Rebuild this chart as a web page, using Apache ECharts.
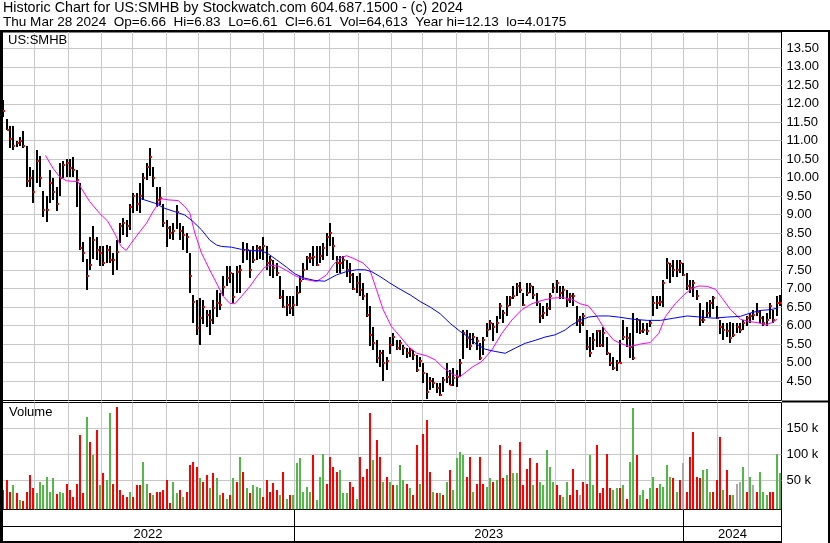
<!DOCTYPE html>
<html>
<head>
<meta charset="utf-8">
<title>US:SMHB</title>
<script src="https://cdn.jsdelivr.net/npm/echarts@6/dist/echarts.min.js"></script>
<style>
  html, body { margin: 0; padding: 0; background: #fff; }
  #chart { width: 830px; height: 543px; }
</style>
</head>
<body>
<div id="chart"></div>
<script>
// one bar = ~2 trading days, Apr 2022 .. Mar 28 2024
const high = [
  12.1, 11.6, 11.4, 11.4, 11.0, 11.1, 11.25, 10.85, 10.3, 10.2,
  10.75, 10.6, 9.65, 9.5, 10.2, 10.0, 9.75, 10.4, 10.45, 10.5,
  10.5, 10.55, 10.2, 9.85, 8.25, 7.8, 8.4, 8.68, 8.4, 8.14,
  8.14, 8.18, 8.14, 7.96, 8.32, 8.77, 8.9, 8.86, 9.3, 9.58,
  9.58, 9.85, 10.12, 10.4, 10.8, 10.3, 9.76, 9.75,
  9.3, 8.86, 8.68, 8.77, 9.26, 8.77, 8.68, 8.5, 7.95, 6.83,
  6.7, 6.74, 6.7, 6.43, 6.43, 6.7, 6.96, 6.88, 7.33, 7.6,
  7.6, 7.42, 7.6, 7.64, 8.27, 8.23, 8.04, 8.14, 8.18, 8.14,
  8.4, 8.14, 7.87, 7.78, 7.69, 7.33, 6.96, 6.79, 6.79, 6.79,
  7.06, 7.33, 7.69, 7.87, 7.96, 8.15,
  8.14, 8.14, 8.23, 8.5, 8.77, 8.4, 7.87, 7.87, 7.87, 7.78,
  7.69, 7.42, 7.33, 7.42, 7.15, 6.88, 6.52, 5.97, 5.61, 5.34,
  5.34, 5.16, 5.7, 5.79, 5.61, 5.61, 5.48, 5.39, 5.39, 5.34,
  5.21, 5.16, 4.98, 4.71, 4.62, 4.57, 4.44, 4.44, 4.62, 4.98,
  4.8, 4.84, 4.8, 5.1, 5.88, 5.88, 5.8,
  5.79, 5.7, 5.52, 5.7, 6.07, 6.16, 6.07, 6.25, 6.6, 6.43,
  6.79, 6.79, 7.06, 7.15, 7.19, 6.88, 7.15, 7.15, 7.06, 6.88,
  6.6, 6.52, 6.6, 6.88, 7.15, 7.24, 7.06, 7.06, 6.97, 6.88,
  6.88, 6.52, 6.25, 6.33, 5.88, 5.7, 5.79, 5.88, 5.88, 5.97,
  5.7, 5.25, 5.16, 5.07, 5.61, 6.16,
  5.97, 5.79, 6.33, 6.2, 6.16, 6.07, 6.07, 6.16, 6.79, 6.79,
  6.79, 7.24, 7.82, 7.69, 7.78, 7.78, 7.78, 7.69, 7.42, 7.24,
  7.24, 6.97, 6.6, 6.43, 6.65, 6.7, 6.79, 6.52, 6.16, 6.07,
  6.07, 6.1, 6.07, 6.07, 6.07, 6.16, 6.25, 6.33, 6.43, 6.6,
  6.43, 6.25, 6.33, 6.6, 6.43, 6.79, 6.83
]
const low = [
  11.65, 11.3, 10.8, 10.75, 10.85, 10.85, 10.8, 9.75, 9.75, 9.3,
  9.85, 9.75, 8.95, 8.8, 9.3, 9.4, 9.1, 9.5, 10.0, 10.0,
  10.0, 10.0, 9.2, 8.05, 7.7, 6.97, 7.5, 7.78, 7.78, 7.6,
  7.6, 7.69, 7.69, 7.37, 7.5, 8.23, 8.45, 8.4, 8.6, 9.04,
  9.08, 9.04, 9.4, 9.94, 10.03, 9.76, 9.22, 9.25,
  8.68, 8.14, 8.32, 8.32, 8.6, 8.32, 8.04, 7.95, 6.87, 6.06,
  5.75, 5.47, 6.06, 5.97, 5.75, 6.06, 6.24, 6.43, 6.79, 7.05,
  7.15, 6.6, 6.88, 6.88, 7.69, 7.78, 7.28, 7.69, 7.78, 7.78,
  7.78, 7.5, 7.33, 7.28, 7.33, 6.7, 6.47, 6.24, 6.29, 6.24,
  6.52, 6.88, 7.24, 7.5, 7.69, 7.6,
  7.6, 7.69, 7.78, 7.87, 8.14, 7.78, 7.42, 7.42, 7.51, 7.33,
  7.15, 6.97, 6.88, 6.79, 6.7, 6.24, 5.43, 5.34, 4.98, 4.89,
  4.49, 4.8, 5.25, 5.43, 5.34, 5.34, 5.21, 5.12, 5.16, 5.07,
  4.76, 4.89, 4.44, 4.02, 4.26, 4.31, 4.17, 4.08, 4.21, 4.44,
  4.4, 4.35, 4.35, 4.62, 5.1, 5.39, 5.35,
  5.48, 5.34, 5.07, 5.21, 5.7, 5.88, 5.57, 5.79, 6.16, 6.07,
  6.25, 6.52, 6.7, 6.79, 6.88, 6.52, 6.79, 6.88, 6.7, 6.52,
  6.07, 6.16, 6.25, 6.43, 6.88, 6.88, 6.7, 6.7, 6.52, 6.6,
  6.52, 5.97, 5.79, 5.97, 5.34, 5.16, 5.34, 5.43, 5.43, 5.43,
  5.21, 4.89, 4.8, 4.76, 4.98, 5.61,
  5.43, 5.12, 5.07, 5.79, 5.79, 5.79, 5.75, 5.97, 6.25, 6.43,
  6.52, 6.52, 7.24, 7.15, 7.33, 7.33, 7.42, 7.33, 6.97, 6.88,
  6.79, 6.7, 5.97, 6.07, 6.24, 6.24, 6.43, 6.16, 5.79, 5.61,
  5.7, 5.52, 5.7, 5.79, 5.79, 5.88, 5.97, 6.07, 6.16, 6.25,
  6.07, 5.97, 5.97, 6.16, 6.07, 6.25, 6.52
]
const close = [
  11.8, 11.3, 11.05, 10.85, 10.95, 10.98, 10.85, 9.9, 10.0, 9.6,
  10.45, 10.0, 9.13, 9.13, 9.85, 9.6, 9.3, 10.0, 10.35, 10.4,
  10.25, 10.2, 9.95, 8.1, 7.95, 7.33, 7.65, 8.32, 8.05, 7.95,
  7.69, 8.05, 7.78, 7.78, 8.0, 8.68, 8.77, 8.68, 9.22, 9.5,
  9.3, 9.5, 9.98, 10.3, 10.57, 9.98, 9.4, 9.45,
  8.77, 8.63, 8.5, 8.55, 9.08, 8.55, 8.45, 8.4, 7.33, 6.65,
  5.93, 6.2, 6.5, 6.28, 6.15, 6.47, 6.6, 6.55, 7.05, 7.28,
  7.42, 6.78, 7.46, 7.5, 8.05, 8.05, 7.5, 7.78, 8.1, 8.05,
  8.14, 7.69, 7.78, 7.55, 7.42, 6.78, 6.5, 6.56, 6.47, 6.56,
  6.87, 7.2, 7.5, 7.82, 7.82, 7.85,
  7.64, 7.87, 8.1, 8.4, 8.5, 8.14, 7.69, 7.69, 7.78, 7.5,
  7.37, 7.0, 7.15, 6.97, 6.79, 6.29, 5.75, 5.52, 5.12, 5.25,
  4.98, 5.03, 5.48, 5.7, 5.39, 5.52, 5.39, 5.25, 5.34, 5.21,
  4.8, 5.03, 4.71, 4.2, 4.49, 4.44, 4.3, 4.13, 4.53, 4.62,
  4.4, 4.57, 4.62, 4.98, 5.8, 5.66, 5.45,
  5.7, 5.57, 5.12, 5.6, 5.88, 6.07, 5.97, 6.07, 6.52, 6.34,
  6.52, 6.74, 6.79, 7.06, 6.97, 6.56, 6.88, 7.06, 6.83, 6.65,
  6.25, 6.34, 6.47, 6.79, 7.01, 7.15, 6.88, 6.97, 6.7, 6.79,
  6.79, 6.16, 6.07, 6.25, 5.43, 5.25, 5.6, 5.84, 5.48, 5.79,
  5.25, 4.98, 4.85, 4.98, 5.0, 5.7,
  5.66, 5.43, 5.12, 6.16, 5.84, 5.88, 5.84, 6.07, 6.6, 6.6,
  6.65, 7.15, 7.69, 7.6, 7.5, 7.5, 7.69, 7.37, 7.06, 7.01,
  7.15, 6.79, 6.16, 6.16, 6.34, 6.6, 6.74, 6.2, 5.97, 5.88,
  5.84, 5.66, 5.75, 5.97, 5.88, 6.07, 6.2, 6.25, 6.29, 6.38,
  6.2, 6.07, 6.16, 6.52, 6.16, 6.6, 6.61
]
// volume in thousands, direction 1 up / -1 down / 0 unchanged
const volumeK = [
  30, 50, 27, 40, 25, 11, 10, 27, 59, 34,
  24, 47, 40, 56, 27, 53, 22, 27, 24, 43,
  30, 17, 43, 137, 24, 172, 124, 98, 147, 40,
  63, 50, 179, 43, 192, 30, 20, 17, 27, 17,
  40, 40, 85, 43, 24, 21, 27, 27,
  30, 50, 5, 47, 24, 30, 17, 27, 79, 85,
  76, 53, 47, 59, 34, 63, 53, 21, 24, 14,
  21, 53, 47, 95, 66, 34, 24, 40, 37, 34,
  17, 50, 27, 45, 30, 21, 66, 14, 21, 21,
  82, 92, 27, 37, 27, 98,
  11, 56, 101, 43, 95, 76, 66, 69, 24, 24,
  47, 37, 14, 95, 56, 72, 179, 88, 127, 95,
  47, 56, 47, 40, 40, 79, 50, 43, 34, 21,
  118, 43, 140, 166, 66, 27, 24, 24, 21, 47,
  69, 30, 92, 105, 98, 56, 95,
  27, 43, 95, 43, 37, 53, 47, 50, 118, 53,
  59, 108, 63, 63, 124, 40, 72, 92, 40, 82,
  47, 40, 108, 76, 47, 40, 21, 17, 47, 21,
  72, 30, 21, 47, 43, 98, 40, 118, 24, 34,
  101, 34, 30, 34, 34, 40,
  14, 85, 189, 98, 21, 30, 14, 34, 56, 34,
  43, 37, 79, 56, 53, 27, 50, 82, 27, 95,
  143, 56, 53, 69, 72, 27, 27, 50, 134, 30,
  69, 21, 21, 43, 47, 76, 27, 56, 40, 27,
  66, 27, 21, 27, 27, 101, 63
]
const volumeDir = [
  -1, -1, -1, 1, -1, 1, -1, -1, -1, -1,
  1, 1, 1, 1, 1, 1, -1, 1, 1, -1,
  -1, -1, -1, -1, -1, 1, -1, 1, -1, 1,
  -1, 1, 1, -1, -1, -1, -1, -1, 1, -1,
  -1, -1, 1, 1, -1, 1, -1, -1,
  -1, -1, -1, 1, 1, -1, 1, -1, -1, -1,
  -1, 1, -1, -1, 1, -1, 1, 1, -1, 1,
  -1, 1, -1, 1, -1, 1, -1, 1, 1, 1,
  -1, -1, -1, -1, -1, 1, -1, 1, -1, 1,
  1, 1, 1, 1, 1, -1,
  1, 1, 1, -1, -1, -1, -1, 1, 1, 1,
  -1, -1, 1, -1, -1, -1, -1, 1, -1, -1,
  1, -1, 1, -1, 1, 1, 1, -1, 1, -1,
  -1, 1, -1, -1, -1, 1, -1, 1, -1, 1,
  -1, 1, 1, 1, 1, -1, -1,
  1, -1, -1, -1, 1, 1, -1, 1, -1, -1,
  1, -1, 1, 1, -1, -1, -1, -1, 1, -1,
  1, 1, 1, 1, 1, -1, -1, 1, 1, -1,
  -1, -1, 0, -1, -1, 1, 1, -1, -1, -1,
  -1, -1, 1, 1, -1, 1,
  -1, 1, 1, -1, 1, 1, -1, 1, 1, -1,
  1, 1, 1, 1, -1, 1, -1, 0, -1, -1,
  -1, -1, -1, 1, 1, 1, -1, -1, -1, 1,
  -1, -1, 1, 0, 0, 1, -1, 1, 0, -1,
  1, 1, 1, -1, -1, 1, 1
]
// moving averages (x in bar units)
const maFastX = [
  13.2, 15.4, 17.4, 19.4, 21.4, 22.9, 23.9, 26.4, 29.4, 31.9, 33.9, 35.9, 37.4, 38.9, 41.5, 43.5, 45.5,
  48.0, 50.0, 53.0, 55.0, 56.5, 58.0, 60.0, 62.5, 64.5, 66.5, 68.5, 70.0, 72.0, 74.5, 77.0, 79.0, 80.5, 83.0, 85.5, 88.0, 91.0,
  94.5, 97.5, 99.5, 101.5, 103.5, 105.5, 108.5, 110.5, 112.5, 114.5, 117.0, 119.6, 122.1, 124.6, 127.6, 130.1, 132.6, 135.6, 137.6, 139.6,
  141.1, 144.1, 147.1, 150.1, 153.1, 156.1, 159.1, 162.1, 165.1, 168.1, 171.1, 173.6, 176.1, 178.6, 181.1, 183.6, 185.6,
  188.6, 191.6, 194.6, 197.2, 199.2, 202.2, 204.7, 207.2, 209.2, 211.7, 214.2, 216.2, 218.7, 221.7, 224.2, 226.7, 229.2, 231.2, 232.7
]
const maFastY = [
  10.6, 10.26, 10.03, 9.92, 9.9, 9.9, 9.72, 9.36, 9.04, 8.82, 8.5, 8.14, 8.03, 8.23, 8.54, 8.77, 9.09,
  9.43, 9.4, 9.38, 9.22, 9.04, 8.5, 7.96, 7.5, 7.15, 6.79, 6.6, 6.59, 6.79, 7.06, 7.37, 7.58, 7.63, 7.61, 7.49, 7.35, 7.25,
  7.19, 7.37, 7.64, 7.82, 7.89, 7.82, 7.69, 7.51, 6.97, 6.43, 5.97, 5.7, 5.43, 5.25, 5.18, 5.07, 4.85, 4.67, 4.62, 4.76,
  4.87, 5.03, 5.34, 5.79, 6.15, 6.43, 6.59, 6.68, 6.74, 6.76, 6.71, 6.59, 6.53, 6.25, 5.88, 5.61, 5.52,
  5.43, 5.5, 5.54, 5.79, 6.25, 6.6, 6.83, 7.01, 7.07, 7.06, 6.98, 6.74, 6.43, 6.17, 6.11, 6.08, 6.02, 6.08, 6.17
]
const maSlowX = [
  41.5, 46.0, 49.0, 52.0, 55.0, 57.5, 60.0, 62.5, 64.5, 66.0, 69.0, 72.0, 75.0, 78.0, 80.0, 82.5, 85.5, 88.0, 91.0, 94.0,
  97.0, 100.5, 103.5, 106.5, 109.0, 111.0, 113.5, 116.5, 119.6, 122.6, 125.6, 128.6, 131.6, 134.6, 137.6, 140.6,
  142.1, 145.1, 148.1, 151.1, 154.1, 157.1, 160.1, 163.1, 166.1, 169.1, 171.1, 173.6, 176.1, 179.1, 182.1, 185.1,
  189.6, 193.7, 197.7, 201.7, 205.7, 209.7, 213.7, 217.7, 221.7, 224.7, 227.7, 230.7, 232.7
]
const maSlowY = [
  9.44, 9.31, 9.17, 9.08, 8.99, 8.81, 8.59, 8.31, 8.18, 8.14, 8.12, 8.06, 8.03, 8.02, 7.94, 7.78, 7.58, 7.4, 7.28, 7.22,
  7.2, 7.37, 7.46, 7.51, 7.51, 7.46, 7.33, 7.15, 6.98, 6.83, 6.65, 6.5, 6.32, 6.06, 5.84, 5.66,
  5.52, 5.36, 5.3, 5.25, 5.39, 5.52, 5.6, 5.69, 5.75, 5.88, 6.02, 6.14, 6.23, 6.26, 6.26, 6.23,
  6.17, 6.14, 6.14, 6.2, 6.26, 6.23, 6.2, 6.23, 6.25, 6.34, 6.41, 6.43, 6.47
]
// month starts (May 2022 .. Mar 2024) in bar units
const monthLines = [
  9.84, 20.04, 29.85, 39.36, 49.56, 59.04, 68.76, 78.54, 87.84, 98.34, 107.16, 117.06,
  126.36, 136.56, 146.04, 155.76, 166.14, 175.05, 185.55, 195.06, 204.54, 214.86, 224.04
]
const yearLines = [87.84, 204.54]
const yearCentres = [43.95, 146.2, 219.3]
const yearLabels = ['2022', '2023', '2024']
const priceTicks = [4.5, 5, 5.5, 6, 6.5, 7, 7.5, 8, 8.5, 9, 9.5, 10, 10.5, 11, 11.5, 12, 12.5, 13, 13.5]
const volumeTicks = [50, 100, 150]

const barCount = high.length
const font = 'Liberation Sans, Arial, sans-serif'
const gridGrey = '#c8c8c8'
const upColor = '#52b848'
const downColor = '#ff0000'
const flatColor = '#aaaaaa'

const renderBar = (params, api) => {
  const x = api.value(0)
  const top = api.coord([x, api.value(1)])
  const bottom = api.coord([x, api.value(2)])
  const c = api.coord([x, api.value(3)])
  const px = Math.round(top[0])
  return {
    type: 'group',
    children: [
      {
        type: 'rect',
        shape: { x: px - 1, y: Math.round(top[1]), width: 2, height: Math.max(1, Math.round(bottom[1] - top[1])) },
        style: { fill: '#000' }
      },
      {
        type: 'rect',
        shape: { x: px, y: Math.round(c[1]) - 1, width: 2, height: 2 },
        style: { fill: '#ff0000' }
      }
    ]
  }
}

const renderVolume = (params, api) => {
  const x = api.value(0)
  const p = api.coord([x, api.value(1)])
  const base = params.coordSys.y + params.coordSys.height
  const dir = api.value(2)
  return {
    type: 'rect',
    shape: { x: Math.round(p[0]) - 1, y: Math.round(p[1]), width: 2, height: base - Math.round(p[1]) },
    style: { fill: dir > 0 ? upColor : dir < 0 ? downColor : flatColor }
  }
}

const textStyle = { fontSize: 13, fontWeight: 'normal', color: '#000', fontFamily: font }

const monthAxis = (gridIndex) => ({
  gridIndex,
  type: 'value',
  min: 0,
  max: barCount,
  axisLine: { show: false },
  axisLabel: { show: false },
  axisTick: { show: false, customValues: monthLines },
  splitLine: { show: true, lineStyle: { color: gridGrey, width: 1 } }
})

const chart = echarts.init(document.getElementById('chart'))
const option = {
  animation: false,
  backgroundColor: '#fff',
  title: [
    {
      text: 'Historic Chart for US:SMHB by Stockwatch.com 604.687.1500 - (c) 2024',
      left: 3, top: 1, padding: 0,
      textStyle: { ...textStyle, fontSize: 14.3 }
    },
    {
      text: 'Thu Mar 28 2024  Op=6.66  Hi=6.83  Lo=6.61  Cl=6.61  Vol=64,613  Year hi=12.13  lo=4.0175',
      left: 3, top: 15, padding: 0,
      textStyle: { ...textStyle, fontSize: 13.55 }
    },
    { text: 'US:SMHB', left: 8, top: 33.5, padding: 0, textStyle },
    { text: 'Volume', left: 9, top: 405.5, padding: 0, textStyle }
  ],
  grid: [
    { left: 1.5, top: 32, width: 780, height: 368.5, show: true, borderColor: '#000', borderWidth: 1 },
    { left: 1.5, top: 402.5, width: 780, height: 107, show: true, borderColor: '#000', borderWidth: 1 },
    { left: 1.5, top: 509.5, width: 780, height: 17, show: true, borderColor: '#000', borderWidth: 1 },
    { left: 1.5, top: 526.5, width: 780, height: 15, show: true, borderColor: '#000', borderWidth: 1 }
  ],
  xAxis: [
    monthAxis(0),
    monthAxis(1),
    {
      gridIndex: 2, type: 'value', min: 0, max: barCount,
      axisLine: { show: false }, axisLabel: { show: false },
      axisTick: { show: false, customValues: yearLines },
      splitLine: { show: true, lineStyle: { color: '#000', width: 1 } }
    },
    {
      gridIndex: 3, type: 'value', min: 0, max: barCount, position: 'top',
      axisLine: { show: false },
      axisTick: { show: false, customValues: yearLines },
      axisLabel: {
        inside: true, margin: 1, customValues: yearCentres,
        formatter: (v) => yearLabels[yearCentres.indexOf(v)],
        color: '#000', fontSize: 13, fontFamily: font
      },
      splitLine: { show: true, lineStyle: { color: '#000', width: 1 } }
    }
  ],
  yAxis: [
    {
      gridIndex: 0, type: 'value', position: 'right', min: 3.973, max: 13.941,
      axisLine: { show: false },
      axisTick: { show: false, customValues: priceTicks },
      axisLabel: { customValues: priceTicks, formatter: (v) => v.toFixed(2), margin: 5, color: '#000', fontSize: 13, fontFamily: font },
      splitLine: { show: true, lineStyle: { color: gridGrey, width: 1 } }
    },
    {
      gridIndex: 1, type: 'value', position: 'right', min: -7.2, max: 200.2,
      axisLine: { show: false },
      axisTick: { show: false, customValues: volumeTicks },
      axisLabel: { customValues: volumeTicks, formatter: (v) => v + ' k', margin: 5, color: '#000', fontSize: 13, fontFamily: font },
      splitLine: { show: true, lineStyle: { color: gridGrey, width: 1 } }
    },
    { gridIndex: 2, type: 'value', show: false },
    { gridIndex: 3, type: 'value', show: false }
  ],
  graphic: [
    { type: 'line', z: 100, shape: { x1: 0, y1: 31, x2: 830, y2: 31 }, style: { stroke: '#000', lineWidth: 2 } },
    { type: 'line', z: 100, shape: { x1: 1.5, y1: 31, x2: 1.5, y2: 543 }, style: { stroke: '#000', lineWidth: 3 } },
    { type: 'line', z: 100, shape: { x1: 829, y1: 31, x2: 829, y2: 543 }, style: { stroke: '#000', lineWidth: 2 } },
    { type: 'line', z: 100, shape: { x1: 782, y1: 401.5, x2: 830, y2: 401.5 }, style: { stroke: '#000', lineWidth: 2 } },
    { type: 'line', z: 100, shape: { x1: 0, y1: 542, x2: 782, y2: 542 }, style: { stroke: '#000', lineWidth: 2 } }
  ],
  series: [
    {
      name: 'price',
      type: 'custom',
      xAxisIndex: 0,
      yAxisIndex: 0,
      clip: true,
      z: 2,
      renderItem: renderBar,
      encode: { x: 0, y: [1, 2, 3] },
      data: high.map((h, i) => [i + 0.5, h, low[i], close[i]])
    },
    {
      name: 'ma fast',
      type: 'line',
      xAxisIndex: 0,
      yAxisIndex: 0,
      z: 3,
      showSymbol: false,
      lineStyle: { color: '#ff00ff', width: 1 },
      data: maFastX.map((x, i) => [x, maFastY[i]])
    },
    {
      name: 'ma slow',
      type: 'line',
      xAxisIndex: 0,
      yAxisIndex: 0,
      z: 3,
      showSymbol: false,
      lineStyle: { color: '#0000ff', width: 1 },
      data: maSlowX.map((x, i) => [x, maSlowY[i]])
    },
    {
      name: 'volume',
      type: 'custom',
      xAxisIndex: 1,
      yAxisIndex: 1,
      clip: true,
      renderItem: renderVolume,
      encode: { x: 0, y: 1 },
      data: volumeK.map((v, i) => [i + 0.5, v, volumeDir[i]])
    }
  ]
}
chart.setOption(option)
</script>
</body>
</html>
